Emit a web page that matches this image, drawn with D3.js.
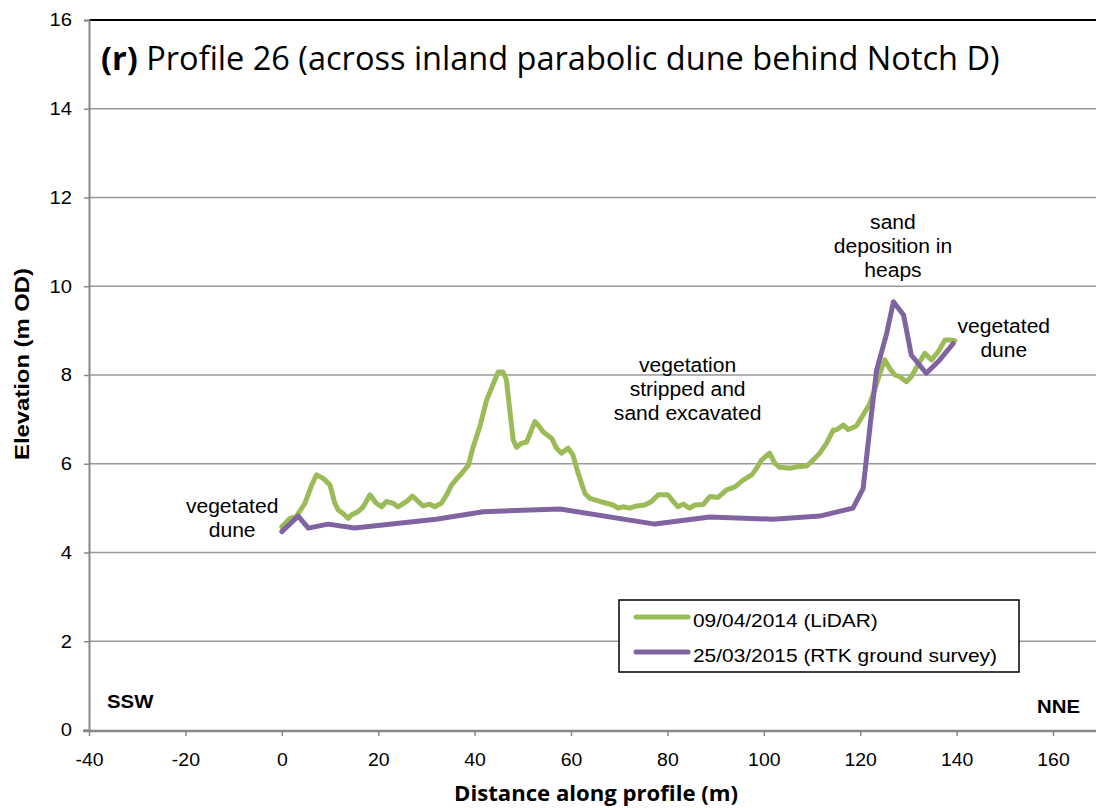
<!DOCTYPE html>
<html>
<head>
<meta charset="utf-8">
<script src="https://cdn.jsdelivr.net/npm/d3@7"></script>
<style>
  body { margin: 0; background: #fff; }
  svg { display: block; }
  text { font-family: "Liberation Sans", Arial, sans-serif; fill: #000; }
</style>
</head>
<body>
<svg id="chart" width="1096" height="808"></svg>
<script>
// LiDAR survey 09/04/2014 (distance m, elevation m OD)
const lidarX = [0, 1.7, 3, 4.8, 6.2, 7.2, 8.6, 10, 11, 11.7, 12.7, 13.8, 14.5, 15.8, 16.9, 18.3, 19.6, 20.7, 21.7, 23.1, 24.1, 25.9, 27.1, 28.3, 29.3, 30.7, 31.7, 33.1, 34.2, 35.2, 36.2, 37.3, 38.7, 39.7, 41.1, 42.5, 43.5, 44.9, 45.9, 46.6, 47.3, 48, 48.7, 49.7, 50.8, 51.8, 52.5, 53.2, 54.2, 56, 57, 58, 59.4, 60.4, 61.5, 62.9, 63.9, 66, 67.4, 68.7, 69.8, 70.8, 72.2, 73.6, 75.3, 76.7, 78.1, 80.1, 81.2, 82.2, 83.3, 84.6, 85.7, 87.4, 88.8, 90.5, 92.3, 94, 95.7, 97.5, 98.5, 99.5, 101.2, 102.3, 103.3, 105.4, 106.8, 108.9, 110.2, 111.6, 113, 114.4, 115, 116.5, 117.5, 119.2, 120.6, 122, 123, 124.1, 125.1, 126.1, 127.2, 128.2, 129.6, 130.6, 132, 133.4, 134.8, 136.2, 137.6, 138.6, 139.6];
const lidarY = [4.58, 4.77, 4.81, 5.11, 5.52, 5.75, 5.67, 5.52, 5.11, 4.96, 4.88, 4.77, 4.85, 4.92, 5.03, 5.30, 5.11, 5.03, 5.15, 5.11, 5.03, 5.15, 5.27, 5.15, 5.05, 5.09, 5.03, 5.11, 5.30, 5.52, 5.65, 5.78, 5.97, 6.38, 6.84, 7.44, 7.70, 8.07, 8.07, 7.89, 7.21, 6.54, 6.37, 6.46, 6.49, 6.76, 6.95, 6.87, 6.72, 6.57, 6.35, 6.24, 6.35, 6.20, 5.78, 5.33, 5.22, 5.15, 5.11, 5.07, 5.00, 5.03, 5.00, 5.05, 5.07, 5.15, 5.30, 5.30, 5.15, 5.03, 5.09, 5.00, 5.07, 5.08, 5.26, 5.24, 5.41, 5.48, 5.63, 5.75, 5.90, 6.08, 6.24, 6.01, 5.92, 5.90, 5.93, 5.95, 6.08, 6.24, 6.46, 6.76, 6.76, 6.87, 6.77, 6.85, 7.10, 7.36, 7.66, 8.04, 8.34, 8.15, 8.00, 7.96, 7.85, 7.96, 8.23, 8.49, 8.34, 8.53, 8.79, 8.79, 8.77];

// RTK ground survey 25/03/2015
const rtkX = [0, 3.4, 5.5, 9.6, 15.1, 32, 41.8, 57.7, 77.4, 88.8, 101.9, 111.6, 118.5, 120.6, 122.2, 123.4, 125.5, 126.9, 129, 130.6, 133.7, 136.5, 139.3];
const rtkY = [4.47, 4.82, 4.55, 4.64, 4.55, 4.75, 4.92, 4.98, 4.64, 4.8, 4.75, 4.82, 5.0, 5.44, 7.0, 8.11, 8.94, 9.65, 9.35, 8.45, 8.04, 8.34, 8.71];

const seriesNames = ["09/04/2014 (LiDAR)", "25/03/2015 (RTK ground survey)"];
const seriesColors = ["#9BBB59", "#8064A2"];

const xTicks = [-40, -20, 0, 20, 40, 60, 80, 100, 120, 140, 160];
const yTicks = [0, 2, 4, 6, 8, 10, 12, 14, 16];

// annotation text, anchored at (distance, elevation) of first baseline
const notes = [
  { x: -10.3, y: 4.88, lines: ["vegetated", "dune"] },
  { x: 84.2, y: 8.07, lines: ["vegetation", "stripped  and", "sand excavated"] },
  { x: 126.8, y: 11.3, lines: ["sand", "deposition in", "heaps"] },
  { x: 149.8, y: 8.94, lines: ["vegetated", "dune"] }
];

const svg = d3.select("#chart");
const mLeft = 89, mRight = 1053, mTop = 20, mBottom = 730, plotRight = 1096;

const x = d3.scaleLinear().domain([-40, 160]).range([mLeft, mRight]);
const y = d3.scaleLinear().domain([0, 16]).range([mBottom, mTop]);

// the original text is a bit wider than Arial, stretch it
function stretch(sel, k) {
  sel.each(function() {
    const w = this.getComputedTextLength();
    d3.select(this).attr("textLength", w * k).attr("lengthAdjust", "spacingAndGlyphs");
  });
}

// gridlines
svg.append("g")
  .selectAll("line")
  .data(yTicks.filter(d => d > 0))
  .enter().append("line")
  .attr("x1", mLeft).attr("x2", plotRight)
  .attr("y1", d => y(d)).attr("y2", d => y(d))
  .attr("stroke", d => d === 16 ? "#000" : "#999")
  .attr("stroke-width", d => d === 16 ? 2 : 1.5);

// y axis
const yAxis = svg.append("g")
  .attr("transform", "translate(" + mLeft + ",0)")
  .call(d3.axisLeft(y).tickValues(yTicks).tickSize(5).tickPadding(12).tickFormat(d => String(d)));
yAxis.select(".domain").attr("stroke", "#888").attr("stroke-width", 2);
yAxis.selectAll(".tick line").attr("stroke", "#888").attr("stroke-width", 1.5);
yAxis.selectAll("text").attr("font-family", null).attr("font-size", null).style("font-size", "18px");
stretch(yAxis.selectAll("text"), 1.12);

// x axis
const xAxis = svg.append("g")
  .attr("transform", "translate(0," + (mBottom + 1) + ")")
  .call(d3.axisBottom(x).tickValues(xTicks).tickSize(5).tickPadding(17).tickFormat(d => String(d)));
xAxis.select(".domain").remove();
xAxis.append("line").attr("x1", mLeft - 6).attr("x2", plotRight).attr("stroke", "#888").attr("stroke-width", 2.5);
xAxis.selectAll(".tick line").attr("stroke", "#888").attr("stroke-width", 1.5);
xAxis.selectAll("text").style("font-size", "18px");
stretch(xAxis.selectAll("text"), 1.08);

// lines
const line = d3.line().x(d => x(d[0])).y(d => y(d[1]));
const series = [d3.zip(lidarX, lidarY), d3.zip(rtkX, rtkY)];
svg.append("g")
  .selectAll("path")
  .data(series)
  .enter().append("path")
  .attr("d", line)
  .attr("fill", "none")
  .attr("stroke", (d, i) => seriesColors[i])
  .attr("stroke-width", 5)
  .attr("stroke-linejoin", "round")
  .attr("stroke-linecap", "round");

// annotations
notes.forEach(n => {
  n.lines.forEach((s, i) => {
    const t = svg.append("text")
      .attr("text-anchor", "middle")
      .attr("x", x(n.x))
      .attr("y", y(n.y) + i * 24)
      .style("font-size", "19.5px")
      .text(s);
    stretch(t, 1.08);
  });
});

// title
const title = svg.append("text")
  .attr("x", 101).attr("y", 70)
  .style("font-family", "'Open Sans', sans-serif")
  .style("font-size", "30px");
title.append("tspan").style("font-weight", "bold").text("(r)");
title.append("tspan").text(" Profile 26 (across inland parabolic dune behind Notch D)");
const tw = title.node().getComputedTextLength();
title.style("font-size", (30 * 899 / tw) + "px");

// direction labels
stretch(svg.append("text").attr("x", 107).attr("y", 708)
  .style("font-size", "18.5px").style("font-weight", "bold").text("SSW"), 1.1);
stretch(svg.append("text").attr("x", 1080).attr("y", 713).attr("text-anchor", "end")
  .style("font-size", "18.5px").style("font-weight", "bold").text("NNE"), 1.1);

// axis titles
svg.append("text")
  .attr("transform", "translate(29,364) rotate(-90)")
  .attr("text-anchor", "middle")
  .attr("textLength", 192).attr("lengthAdjust", "spacingAndGlyphs")
  .style("font-size", "20px").style("font-weight", "bold")
  .text("Elevation (m OD)");
svg.append("text")
  .attr("x", 596).attr("y", 801)
  .attr("text-anchor", "middle")
  .attr("textLength", 284).attr("lengthAdjust", "spacingAndGlyphs")
  .style("font-family", "'Open Sans', sans-serif")
  .style("font-size", "21px").style("font-weight", "bold")
  .text("Distance along profile (m)");

// legend
const legend = svg.append("g").attr("transform", "translate(619,600)");
legend.append("rect").attr("width", 400).attr("height", 72)
  .attr("fill", "#fff").attr("stroke", "#000").attr("stroke-width", 1.5);
seriesNames.forEach((name, i) => {
  const ly = 17 + i * 35;
  legend.append("line").attr("x1", 17).attr("x2", 69).attr("y1", ly).attr("y2", ly)
    .attr("stroke", seriesColors[i]).attr("stroke-width", 5).attr("stroke-linecap", "round");
  const t = legend.append("text").attr("x", 74).attr("y", ly + 9.5)
    .style("font-size", "19px").text(name);
  stretch(t, 1.1);
});
</script>
</body>
</html>
